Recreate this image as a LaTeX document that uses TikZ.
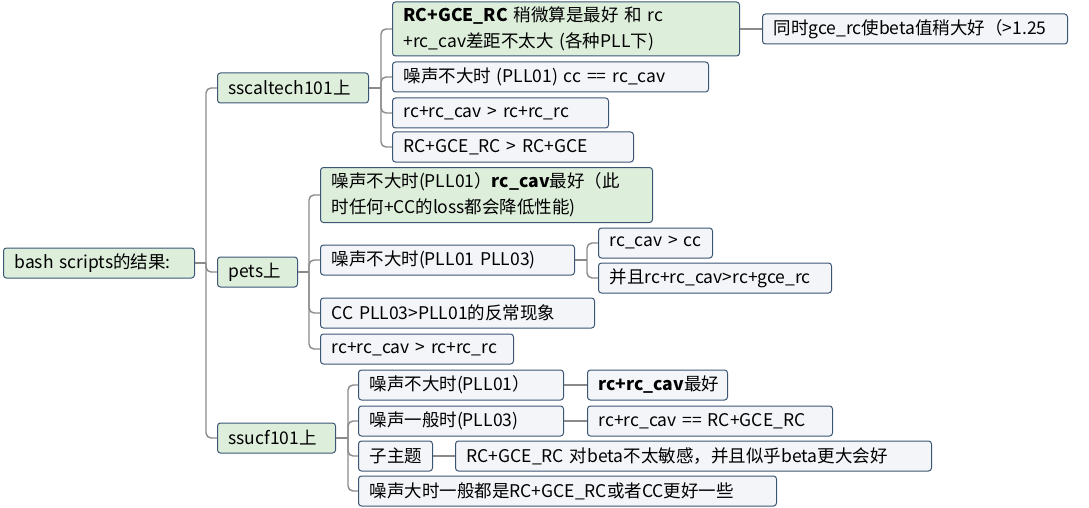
\documentclass[tikz,border=0pt]{standalone}
\usepackage{fontspec}
\setmainfont{Noto Sans CJK SC}
\usepackage{tikz}
\usetikzlibrary{positioning, calc}
\definecolor{topicgreen}{RGB}{221, 238, 219}
\definecolor{leafgray}{RGB}{243, 245, 248}
\definecolor{edgeblue}{RGB}{59, 86, 117}
\definecolor{linkgray}{RGB}{138, 138, 138}

\tikzset{
  box/.style={draw=edgeblue, line width=1pt, rounded corners=3pt, anchor=west,
    minimum height=30pt, inner xsep=11pt, inner ysep=3pt, align=left,
    font=\fontsize{17.5}{26}\selectfont},
  topic/.style={box, fill=topicgreen},
  leaf/.style={box, fill=leafgray},
  link/.style={draw=linkgray, line width=1.4pt, rounded corners=5pt}
}

\begin{document}
\begin{tikzpicture}[x=1pt, y=-1pt]
  \useasboundingbox (0,0) rectangle (1089,508);

  % root and main topics
  \node[topic, text width=169pt] (root) at (3,263) {bash scripts的结果:};
  \node[topic, text width=129pt] (scal) at (217,88) {sscaltech101上};
  \node[topic, text width=58pt] (pets) at (217,272) {pets上};
  \node[topic, text width=96pt] (ucf) at (217,438) {ssucf101上};

  % sscaltech101
  \node[topic, text width=325pt, minimum height=54pt] (scalA) at (392,29)
    {\textbf{RC+GCE\_RC} 稍微算是最好 和 rc\\+rc\_cav差距不太大 (各种PLL下)};
  \node[leaf, text width=283pt] (scalAa) at (762,29) {同时gce\_rc使beta值稍大好（>1.25};
  \node[leaf, text width=294pt] (scalB) at (392,77) {噪声不大时 (PLL01) cc == rc\_cav};
  \node[leaf, text width=194pt] (scalC) at (392,113) {rc+rc\_cav > rc+rc\_rc};
  \node[leaf, text width=219pt] (scalD) at (392,147) {RC+GCE\_RC > RC+GCE};

  % pets
  \node[topic, text width=310pt, minimum height=55pt] (petsA) at (320,195)
    {噪声不大时(PLL01）\textbf{rc\_cav}最好（此\\时任何+CC的loss都会降低性能)};
  \node[leaf, text width=232pt] (petsB) at (320,260) {噪声不大时(PLL01 PLL03)};
  \node[leaf, text width=92pt] (petsBa) at (598,243) {rc\_cav > cc};
  \node[leaf, text width=211pt] (petsBb) at (598,278) {并且rc+rc\_cav>rc+gce\_rc};
  \node[leaf, text width=252pt] (petsC) at (320,313) {CC PLL03>PLL01的反常现象};
  \node[leaf, text width=171pt] (petsD) at (320,349) {rc+rc\_cav > rc+rc\_rc};

  % ssucf101
  \node[leaf, text width=183pt] (ucfA) at (358,385) {噪声不大时(PLL01）};
  \node[leaf, text width=118pt] (ucfAa) at (587,385) {\textbf{rc+rc\_cav}最好};
  \node[leaf, text width=183pt] (ucfB) at (358,421) {噪声一般时(PLL03)};
  \node[leaf, text width=223pt] (ucfBa) at (587,421) {rc+rc\_cav == RC+GCE\_RC};
  \node[leaf, text width=52pt] (ucfC) at (358,456) {子主题};
  \node[leaf, text width=454pt] (ucfCa) at (455,456) {RC+GCE\_RC 对beta不太敏感，并且似乎beta更大会好};
  \node[leaf, text width=396pt] (ucfD) at (358,491) {噪声大时一般都是RC+GCE\_RC或者CC更好一些};

  % connectors
  \draw[link] (root.east) -- ++(11,0) coordinate (rootb);
  \foreach \n in {scal, pets, ucf} \draw[link] (rootb) |- (\n.west);
  \draw[link] (scal.east) -- ++(12,0) coordinate (scalb);
  \foreach \n in {scalA, scalB, scalC, scalD} \draw[link] (scalb) |- (\n.west);
  \draw[link] (pets.east) -- ++(11,0) coordinate (petsb);
  \foreach \n in {petsA, petsB, petsC, petsD} \draw[link] (petsb) |- (\n.west);
  \draw[link] (petsB.east) -- ++(12,0) coordinate (petsBx);
  \foreach \n in {petsBa, petsBb} \draw[link] (petsBx) |- (\n.west);
  \draw[link] (ucf.east) -- ++(12,0) coordinate (ucfb);
  \foreach \n in {ucfA, ucfB, ucfC, ucfD} \draw[link] (ucfb) |- (\n.west);
  \draw[link] (scalA) -- (scalAa);
  \draw[link] (ucfA) -- (ucfAa);
  \draw[link] (ucfB) -- (ucfBa);
  \draw[link] (ucfC) -- (ucfCa);
\end{tikzpicture}
\end{document}
